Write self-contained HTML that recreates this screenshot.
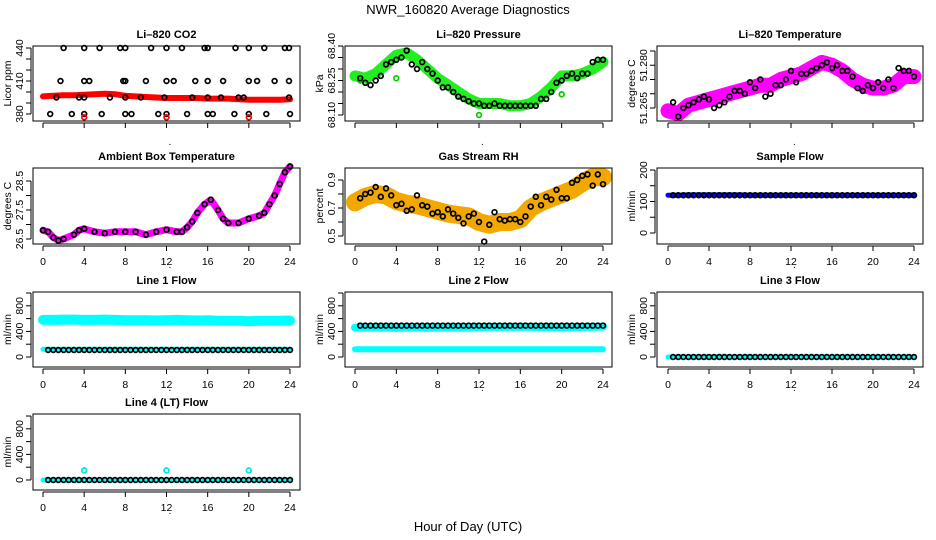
<!DOCTYPE html>
<html><head><meta charset="utf-8"><style>
body{margin:0;background:#fff}
svg{display:block;font-family:"Liberation Sans",sans-serif}
</style></head><body>
<svg id="chart" width="936" height="540" viewBox="0 0 936 540" xmlns="http://www.w3.org/2000/svg">
<text x="468" y="14" text-anchor="middle" font-size="13">NWR_160820  Average Diagnostics</text>
<text x="468" y="531" text-anchor="middle" font-size="13">Hour of Day (UTC)</text>
</svg>
<script>
// ---------- data ----------
const hourTicks = [0,4,8,12,16,20,24];
const hourly = [0,1,2,3,4,5,6,7,8,9,10,11,12,13,14,15,16,17,18,19,20,21,22,23,24];
const halfHours = [0.5,1,1.5,2,2.5,3,3.5,4,4.5,5,5.5,6,6.5,7,7.5,8,8.5,9,9.5,10,10.5,11,11.5,12,12.5,13,13.5,14,14.5,15,15.5,16,16.5,17,17.5,18,18.5,19,19.5,20,20.5,21,21.5,22,22.5,23,23.5,24];

const co2Band = [396,396.5,397,397,397.5,398,398.5,398,396.5,396,395.5,395,394.5,394.5,394.5,394.5,394,394,394,393.5,393,393,393,393,393.5];
const co2CircHours = [2,4,5.5,7.5,8,10.5,12,13.5,15.7,16,18.7,20,21.5,23.5,23.9, 1.7,4,4.5,7.8,8,10,12,12.7,14.8,16,17.5,20,20.8,22.5,23.9, 1.3,3.5,4,6.5,8,9.5,11.8,14.5,16,17.3,19,19.5,23.9, 0.7,2.8,4,5.7,8,8.6,11.2,12,14,16,16.5,18.6,20,21.7,24];
const co2CircVals = [440,440,440,440,440,440,440,440,440,440,440,440,440,440,440, 410,410,410,410,410,410,410,410,410,410,410,410,410,410,410, 395,395,395,395,395,395,395,395,395,395,395,395,395, 380,380,380,380,380,380,380,380,380,380,380,380,380,380,380];
const co2RedHours = [4,12,20];
const co2RedVals = [377,377,377];

const presBand = [68.27,68.26,68.28,68.32,68.36,68.37,68.34,68.3,68.26,68.23,68.2,68.17,68.15,68.15,68.15,68.14,68.14,68.15,68.18,68.22,68.27,68.27,68.28,68.3,68.33];
const presCirc = [68.26,68.24,68.23,68.25,68.27,68.32,68.33,68.34,68.35,68.38,68.32,68.3,68.33,68.3,68.28,68.25,68.22,68.22,68.2,68.18,68.17,68.16,68.15,68.15,68.14,68.14,68.15,68.14,68.14,68.14,68.14,68.14,68.14,68.14,68.14,68.17,68.17,68.2,68.24,68.25,68.27,68.28,68.26,68.28,68.28,68.33,68.34,68.34];
const presOutHours = [0.5,4,12,20];
const presOutVals = [68.25,68.26,68.10,68.19];

const tempBand = [51.264,51.263,51.266,51.267,51.268,51.269,51.27,51.271,51.272,51.273,51.273,51.275,51.276,51.277,51.279,51.281,51.28,51.278,51.275,51.273,51.272,51.272,51.273,51.276,51.276];
const tempCirc = [51.267,51.262,51.265,51.266,51.267,51.268,51.269,51.268,51.265,51.266,51.267,51.269,51.271,51.271,51.27,51.274,51.272,51.275,51.269,51.27,51.273,51.273,51.275,51.278,51.274,51.277,51.277,51.278,51.279,51.28,51.281,51.279,51.28,51.278,51.278,51.276,51.272,51.271,51.273,51.272,51.274,51.272,51.275,51.272,51.279,51.278,51.278,51.276];

const ambHours = [0,0.5,1,1.5,2,3,3.5,4,5,6,7,8,9,10,11,12,13,13.5,14,14.5,15,15.7,16.3,17,17.5,18,19,20,21,21.5,22,22.5,23,23.5,24];
const ambVals = [26.8,26.75,26.55,26.45,26.5,26.65,26.8,26.85,26.75,26.7,26.75,26.75,26.75,26.65,26.75,26.82,26.75,26.75,26.9,27.1,27.4,27.7,27.85,27.5,27.2,27.05,27.05,27.2,27.3,27.4,27.7,28,28.4,28.8,29.0];

const rhBand = [0.74,0.78,0.8,0.79,0.75,0.73,0.72,0.7,0.68,0.66,0.65,0.64,0.6,0.58,0.6,0.6,0.62,0.7,0.74,0.77,0.8,0.83,0.88,0.92,0.92];
const rhCirc = [0.77,0.8,0.81,0.85,0.78,0.84,0.79,0.72,0.73,0.68,0.69,0.79,0.72,0.71,0.66,0.67,0.64,0.69,0.66,0.63,0.59,0.64,0.66,0.6,0.46,0.58,0.67,0.62,0.61,0.62,0.62,0.6,0.64,0.71,0.78,0.72,0.78,0.76,0.83,0.77,0.77,0.88,0.9,0.93,0.94,0.86,0.94,0.87];

const sampleBand = [120,120,121,121,121,121,121,121,120,120,120,120,120,120,120,120,120,120,120,120,120,120,120,120,120];
const sampleCirc = [120,120,120,120,120,120,120,120,120,120,120,120,120,120,120,120,120,120,120,120,120,120,120,120,120,120,120,120,120,120,120,120,120,120,120,120,120,120,120,120,120,120,120,120,120,120,120,120];

const line1Band = [580,580,585,585,580,580,585,580,575,575,575,570,575,580,575,570,575,565,565,565,560,565,565,565,570];
const line1LowBand = [120,120,120,120,120,120,120,120,120,120,120,120,120,120,120,120,120,120,120,120,120,120,120,120,120];
const line1Circ = [110,110,110,110,110,110,110,110,110,110,110,110,110,110,110,110,110,110,110,110,110,110,110,110,110,110,110,110,110,110,110,110,110,110,110,110,110,110,110,110,110,110,110,110,110,110,110,110];

const line2Band = [460,460,460,460,455,460,460,455,460,460,460,460,465,470,470,470,470,470,465,465,460,465,470,470,475];
const line2LowBand = [120,120,120,120,120,120,120,120,120,120,120,120,120,120,120,120,120,120,120,120,120,120,120,120,120];
const line2Circ = [490,490,490,490,490,490,490,490,490,490,490,490,490,490,490,490,490,490,490,490,490,490,490,490,490,490,490,490,490,490,490,490,490,490,490,490,490,490,490,490,490,490,490,490,490,490,490,490];

const line3Band = [0,0,0,0,0,0,0,0,0,0,0,0,0,0,0,0,0,0,0,0,0,0,0,0,0];
const line3Circ = [0,0,0,0,0,0,0,0,0,0,0,0,0,0,0,0,0,0,0,0,0,0,0,0,0,0,0,0,0,0,0,0,0,0,0,0,0,0,0,0,0,0,0,0,0,0,0,0];
const line4Band = [0,0,0,0,0,0,0,0,0,0,0,0,0,0,0,0,0,0,0,0,0,0,0,0,0];
const line4Circ = [0,0,0,0,0,0,0,0,0,0,0,0,0,0,0,0,0,0,0,0,0,0,0,0,0,0,0,0,0,0,0,0,0,0,0,0,0,0,0,0,0,0,0,0,0,0,0,0];
const line4SpikeHours = [4,12,20];
const line4SpikeVals = [150,150,150];

// y tick values & labels
const co2Ticks = [380,390,400,410,420,430,440];
const co2Labels = ["380","","","410","","","440"];
const presTicks = [68.10,68.15,68.20,68.25,68.30,68.35,68.40];
const presLabels = ["68.10","","","68.25","","","68.40"];
const tempTicks = [51.265,51.270,51.275,51.280,51.285];
const tempLabels = ["51.265","","","51.280",""];
const ambTicks = [26.5,27.0,27.5,28.0,28.5];
const ambLabels = ["26.5","","27.5","","28.5"];
const rhTicks = [0.5,0.6,0.7,0.8,0.9];
const rhLabels = ["0.5","","0.7","","0.9"];
const sfTicks = [0,50,100,150,200];
const sfLabels = ["0","","100","","200"];
const flowTicks = [0,200,400,600,800,1000];
const flowLabels = ["0","","400","","800",""];

// ---------- layout ----------
const NS = "http://www.w3.org/2000/svg";
const svg = document.getElementById('chart');
const cols = [{l:33,r:300,x0:43,x24:290},{l:345,r:612,x0:355,x24:603},{l:657,r:923,x0:668,x24:914}];
const rows = [{t:46,b:121},{t:168,b:244},{t:292,b:367},{t:414,b:490}];

function mk(tag, attrs, parent){
  const e = document.createElementNS(NS, tag);
  for (const k in attrs) e.setAttribute(k, attrs[k]);
  (parent||svg).appendChild(e);
  return e;
}

function panel(opt){
  const c = cols[opt.col], r = rows[opt.row];
  const g = mk('g', {});
  
  
  const xs = h => c.x0 + (c.x24 - c.x0) * h / 24;
  const ys = v => opt.py0 + (opt.py1 - opt.py0) * (v - opt.v0) / (opt.v1 - opt.v0);
  const plot = mk('g', {}, g);
  (opt.bands||[]).forEach(b => {
    const pts = b.h.map((h,i) => xs(h).toFixed(1)+','+ys(b.v[i]).toFixed(1)).join(' ');
    const pl = mk('polyline', {points:pts, fill:'none', stroke:b.color, 'stroke-width':b.w, 'stroke-linecap':'round', 'stroke-linejoin':'round'}, plot);
    
    
  });
  (opt.circles||[]).forEach(s => {
    s.h.forEach((h,i) => {
      const ci = mk('circle', {cx:xs(h).toFixed(1), cy:ys(s.v[i]).toFixed(1), r:s.r||2.4, fill:'none', stroke:s.color, 'stroke-width':s.sw||1.7}, plot);
      
      
    });
  });
  const box = mk('rect', {x:c.l, y:r.t, width:c.r-c.l, height:r.b-r.t, fill:'none', stroke:'#000', 'stroke-width':1}, g);
  
  
  const t = mk('text', {x:(c.l+c.r)/2, y:r.t-8, 'text-anchor':'middle', 'font-size':11, 'font-weight':'bold'}, g);
  t.textContent = opt.title;
  
  
  const xa = mk('g', {}, g);
  
  
  mk('line', {x1:c.x0, x2:c.x24, y1:r.b+2, y2:r.b+2, stroke:'#000'}, xa);
  hourTicks.forEach(h => {
    mk('line', {x1:xs(h), x2:xs(h), y1:r.b+2, y2:r.b+7, stroke:'#000'}, xa);
    if (opt.row > 0){
      const tl = mk('text', {x:xs(h), y:r.b+21, 'text-anchor':'middle', 'font-size':10.5}, xa);
      tl.textContent = h;
      
      
    }
  });
  const dot = mk('text', {x:xs(12)+2, y:r.b+24, 'font-size':10}, xa);
  dot.textContent = '.';
  const ya = mk('g', {}, g);
  
  
  const yt = opt.ticks;
  mk('line', {x1:c.l-2, x2:c.l-2, y1:ys(yt[0]), y2:ys(yt[yt.length-1]), stroke:'#000'}, ya);
  yt.forEach((v,i) => {
    const y = ys(v);
    mk('line', {x1:c.l-7, x2:c.l-2, y1:y, y2:y, stroke:'#000'}, ya);
    if (opt.labels[i]){
      const tl = mk('text', {x:0, y:0, 'text-anchor':'middle', 'font-size':10.5, transform:`translate(${c.l-10},${y}) rotate(-90)`}, ya);
      tl.textContent = opt.labels[i];
      
      
    }
  });
  const yl = mk('text', {x:0, y:0, 'text-anchor':'middle', 'font-size':10.5, transform:`translate(${c.l-22},${(r.t+r.b)/2}) rotate(-90)`}, ya);
  yl.textContent = opt.ylab;
  
  
}

const fy = (row) => ({v0:0, v1:1000, py0:rows[row].b-10, py1:rows[row].b-74});

panel({name:'co2', col:0, row:0, title:'Li\u2013820 CO2', ylab:'Licor ppm', v0:380, v1:440, py0:114, py1:48,
  ticks:co2Ticks, labels:co2Labels,
  bands:[{h:hourly, v:co2Band, color:'#ff0000', w:6}],
  circles:[{h:co2CircHours, v:co2CircVals, color:'#000'},{h:co2RedHours, v:co2RedVals, color:'#ff0000'}]});

panel({name:'pressure', col:1, row:0, title:'Li\u2013820 Pressure', ylab:'kPa', v0:68.10, v1:68.40, py0:115, py1:46,
  ticks:presTicks, labels:presLabels,
  bands:[{h:hourly, v:presBand, color:'#22ee22', w:11}],
  circles:[{h:presOutHours, v:presOutVals, color:'#00cc00'},{h:halfHours, v:presCirc, color:'#000'}]});

panel({name:'temperature', col:2, row:0, title:'Li\u2013820 Temperature', ylab:'degrees C', v0:51.265, v1:51.285, py0:108, py1:51,
  ticks:tempTicks, labels:tempLabels,
  bands:[{h:hourly, v:tempBand, color:'#ff00ff', w:15}],
  circles:[{h:halfHours, v:tempCirc, color:'#000'}]});

panel({name:'ambient-temp', col:0, row:1, title:'Ambient Box Temperature', ylab:'degrees C', v0:26.5, v1:28.5, py0:239, py1:181,
  ticks:ambTicks, labels:ambLabels,
  bands:[{h:ambHours, v:ambVals, color:'#ff00ff', w:7}],
  circles:[{h:ambHours, v:ambVals, color:'#000'}]});

panel({name:'gas-rh', col:1, row:1, title:'Gas Stream RH', ylab:'percent', v0:0.5, v1:0.9, py0:236, py1:180,
  ticks:rhTicks, labels:rhLabels,
  bands:[{h:hourly, v:rhBand, color:'#f2a800', w:18}],
  circles:[{h:halfHours, v:rhCirc, color:'#000'}]});

panel({name:'sample-flow', col:2, row:1, title:'Sample Flow', ylab:'ml/min', v0:0, v1:200, py0:233, py1:170,
  ticks:sfTicks, labels:sfLabels,
  bands:[{h:hourly, v:sampleBand, color:'#0000ff', w:5}],
  circles:[{h:halfHours, v:sampleCirc, color:'#000'}]});

let f = fy(2);
panel({name:'line1-flow', col:0, row:2, title:'Line 1 Flow', ylab:'ml/min', v0:f.v0, v1:f.v1, py0:f.py0, py1:f.py1,
  ticks:flowTicks, labels:flowLabels,
  bands:[{h:hourly, v:line1Band, color:'#00ffff', w:10},{h:hourly, v:line1LowBand, color:'#00ffff', w:5}],
  circles:[{h:halfHours, v:line1Circ, color:'#000'}]});

panel({name:'line2-flow', col:1, row:2, title:'Line 2 Flow', ylab:'ml/min', v0:f.v0, v1:f.v1, py0:f.py0, py1:f.py1,
  ticks:flowTicks, labels:flowLabels,
  bands:[{h:hourly, v:line2Band, color:'#00ffff', w:8},{h:hourly, v:line2LowBand, color:'#00ffff', w:6}],
  circles:[{h:halfHours, v:line2Circ, color:'#000'}]});

panel({name:'line3-flow', col:2, row:2, title:'Line 3 Flow', ylab:'ml/min', v0:f.v0, v1:f.v1, py0:f.py0, py1:f.py1,
  ticks:flowTicks, labels:flowLabels,
  bands:[{h:hourly, v:line3Band, color:'#00ffff', w:5}],
  circles:[{h:halfHours, v:line3Circ, color:'#000'}]});

f = fy(3);
panel({name:'line4-flow', col:0, row:3, title:'Line 4 (LT) Flow', ylab:'ml/min', v0:f.v0, v1:f.v1, py0:f.py0, py1:f.py1,
  ticks:flowTicks, labels:flowLabels,
  bands:[{h:hourly, v:line4Band, color:'#00ffff', w:5}],
  circles:[{h:halfHours, v:line4Circ, color:'#000'},{h:line4SpikeHours, v:line4SpikeVals, color:'#00e5e5'}]});
</script>
</body></html>
